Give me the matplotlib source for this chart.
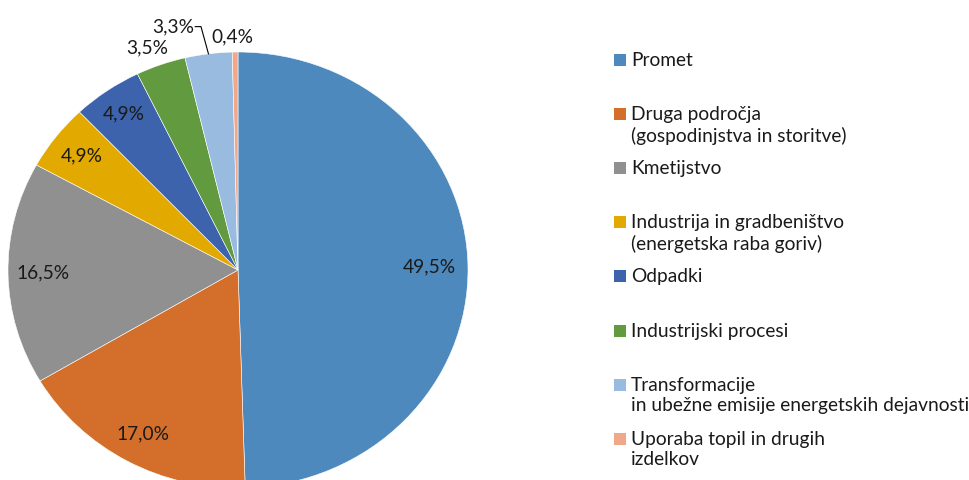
import numpy as np
import matplotlib
matplotlib.use('Agg')
import matplotlib.pyplot as plt
from matplotlib.patches import Rectangle

plt.rcParams['font.family'] = ['Lato', 'DejaVu Sans']

categories = [
    'Promet',
    'Druga področja\n(gospodinjstva in storitve)',
    'Kmetijstvo',
    'Industrija in gradbeništvo\n(energetska raba goriv)',
    'Odpadki',
    'Industrijski procesi',
    'Transformacije\nin ubežne emisije energetskih dejavnosti',
    'Uporaba topil in drugih\nizdelkov',
]
shares = [49.5, 17.0, 16.5, 4.9, 4.9, 3.5, 3.3, 0.4]
colors = ['#4E89BE', '#D36F2A', '#909090', '#E2A900',
          '#3C63AC', '#629A3F', '#9ABBE0', '#F1A78A']

# label distance from centre (fraction of radius) for each slice
label_r = [0.83, 0.86, 0.85, 0.86, 0.87, 1.09, 1.15, 1.07]
label_nudge = [0, 0, 0, 0, 0, 1.5, 6.5, 0.5]  # degrees

fig = plt.figure(figsize=(9.69, 4.8), dpi=100)
W, H = 969, 480
cx, cy, rx, ry = 238, 270, 230, 218
ax = fig.add_axes([(cx - rx) / W, (H - cy - ry) / H, 2 * rx / W, 2 * ry / H])

wedges, _ = ax.pie(shares, colors=colors, startangle=90, counterclock=False,
                   wedgeprops=dict(edgecolor='white', linewidth=0.4))
ax.set_aspect('auto')
ax.set_xlim(-1, 1)
ax.set_ylim(-1, 1)
ax.axis('off')
for w in wedges:
    w.set_clip_on(False)

fs = 13.8
for i, w in enumerate(wedges):
    mid = np.deg2rad((w.theta1 + w.theta2) / 2 + label_nudge[i])
    x, y = label_r[i] * np.cos(mid), label_r[i] * np.sin(mid)
    txt = f'{shares[i]:.1f}%'.replace('.', ',')
    ha = 'center'
    if i == 6:
        ha = 'right'
        x += 0.085
    ax.text(x, y, txt, ha=ha, va='center', fontsize=fs, color='#1a1a1a',
            clip_on=False)
    if i == 6:
        m = np.deg2rad((w.theta1 + w.theta2) / 2)
        ex, ey = np.cos(m), np.sin(m)
        ax.plot([x + 0.005, x + 0.03, ex], [y, y, ey], color='black',
                lw=0.8, clip_on=False)

# legend
y0, step = 60, 54.1
for i, cat in enumerate(categories):
    ypx = y0 + i * step
    fig.patches.append(Rectangle((614 / W, 1 - (ypx + 6) / H), 12 / W, 12 / H,
                                 transform=fig.transFigure,
                                 facecolor=colors[i], edgecolor='none'))
    fig.text(631 / W, 1 - (ypx - 8) / H, cat, ha='left', va='top',
             fontsize=fs, color='#1a1a1a', linespacing=1.25)

fig.savefig('out.png', dpi=100)
